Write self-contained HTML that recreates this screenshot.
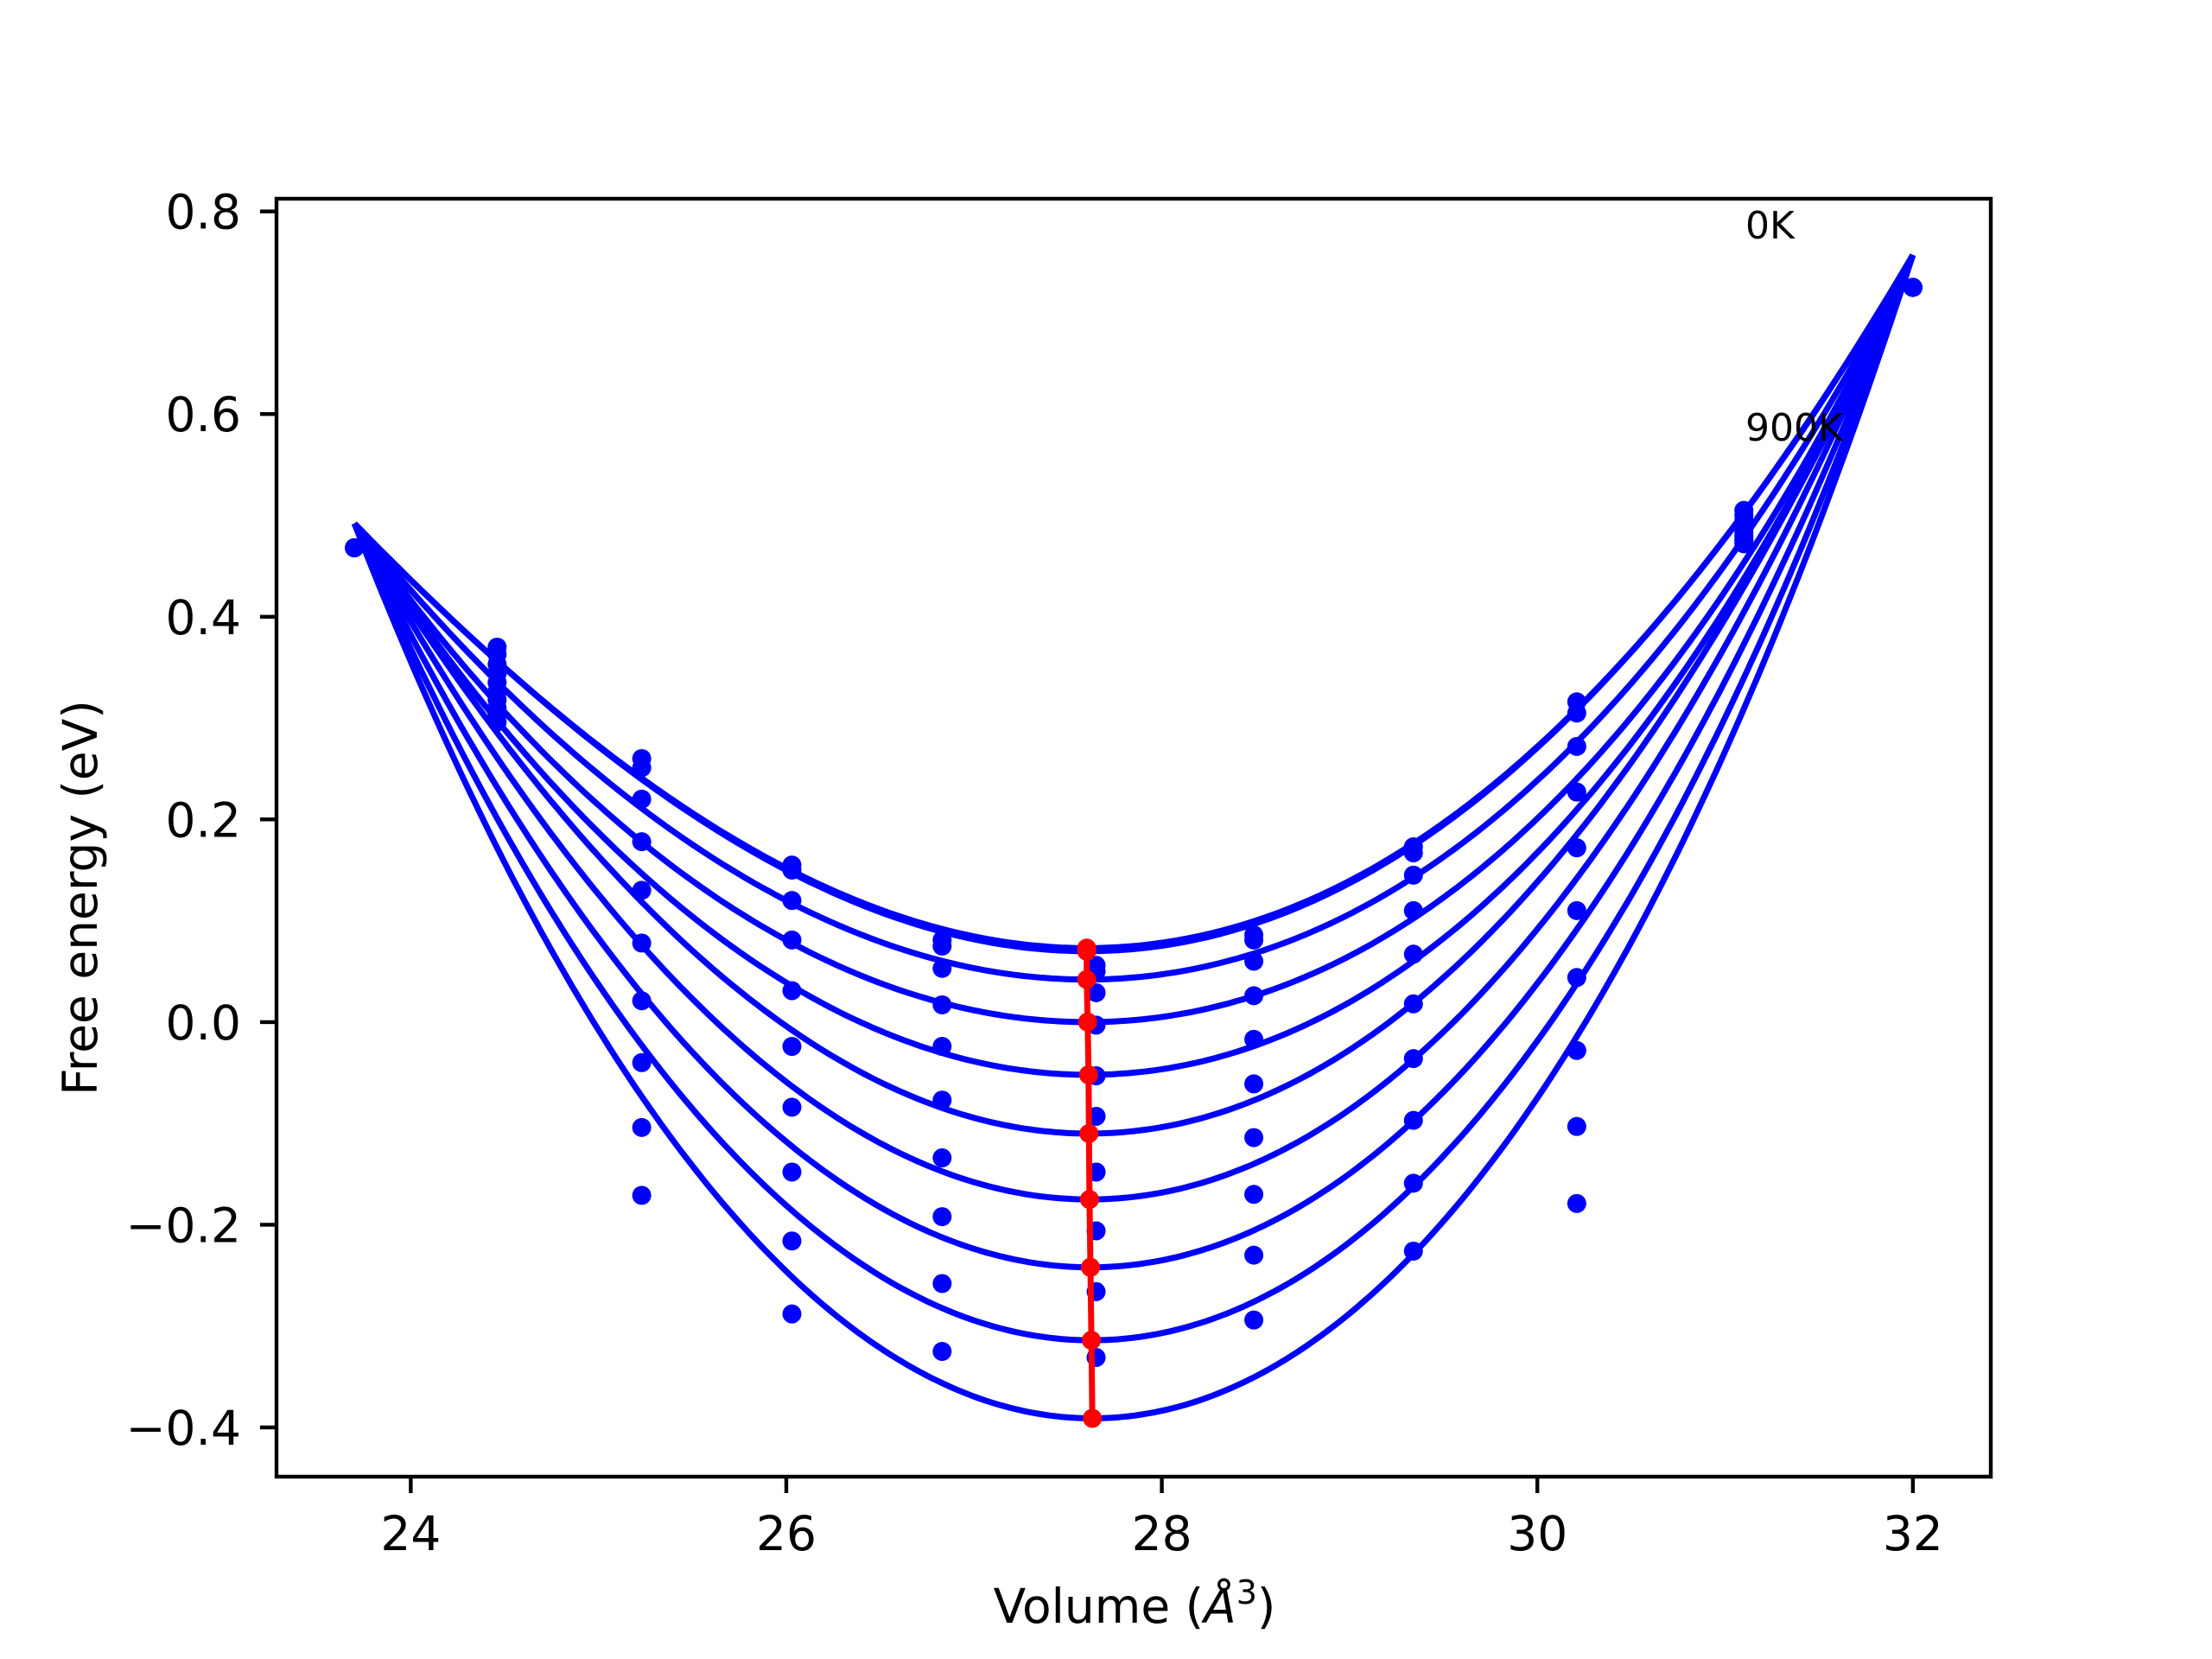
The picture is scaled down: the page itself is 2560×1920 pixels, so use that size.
<!DOCTYPE html>
<html><head><meta charset="utf-8"><style>
html,body{margin:0;padding:0;background:#fff}
svg{display:block}
text{font-family:"DejaVu Sans","Liberation Sans",sans-serif;fill:#000}
</style></head><body>
<svg id="chart" width="2560" height="1920" viewBox="0 0 2560 1920">
<rect x="0" y="0" width="2560" height="1920" fill="#fff"/>
<g id="plot"></g>
<g id="axes"></g>
</svg>
<script>
// ---- data ----
const temperatures = [0,100,200,300,400,500,600,700,800,900];
const minVolumes = [27.60,27.60,27.60,27.605,27.61,27.612,27.615,27.62,27.625,27.63];
const minEnergies = [0.073,0.070,0.042,0.000,-0.052,-0.110,-0.175,-0.242,-0.314,-0.391];
const energyAt26 = [0.152,0.150,0.120,0.081,0.039,-0.004,-0.059,-0.118,-0.181,-0.246];
const leftEndEnergy = 0.492;
const rightEndEnergy = 0.757;
const curveVMin = 23.7, curveVMax = 32.0;
const sampleVolumes = [23.7,24.46,25.23,26.03,26.83,27.65,28.49,29.34,30.21,31.1,32.0];
const sampleEnergies = [
 [0.468,0.468,0.468,0.468,0.468,0.468,0.468,0.468,0.468,0.468],
 [0.370,0.363,0.353,0.344,0.335,0.326,0.318,0.310,0.303,0.296],
 [0.260,0.251,0.220,0.178,0.130,0.078,0.021,-0.040,-0.104,-0.171],
 [0.155,0.150,0.120,0.081,0.031,-0.024,-0.084,-0.148,-0.216,-0.288],
 [0.081,0.075,0.053,0.017,-0.024,-0.077,-0.134,-0.192,-0.258,-0.325],
 [0.056,0.050,0.029,-0.003,-0.053,-0.093,-0.148,-0.206,-0.266,-0.331],
 [0.086,0.081,0.060,0.026,-0.017,-0.061,-0.114,-0.170,-0.230,-0.294],
 [0.173,0.167,0.145,0.110,0.067,0.018,-0.036,-0.097,-0.159,-0.226],
 [0.316,0.305,0.272,0.227,0.172,0.110,0.044,-0.028,-0.103,-0.179],
 [0.505,0.500,0.495,0.490,0.486,0.482,0.479,0.476,0.474,0.472],
 [0.725,0.725,0.725,0.725,0.725,0.725,0.725,0.725,0.725,0.725]
];
const xTicks = [24,26,28,30,32];
const yTicks = [0.8,0.6,0.4,0.2,0.0,-0.2,-0.4];
const yTickLabels = ["0.8","0.6","0.4","0.2","0.0","\u22120.2","\u22120.4"];
const xDomain = [23.285,32.415];
const yDomain = [-0.4486,0.8125];

// ---- layout ----
const L=320,R=2304,T=230,B=1709;
function sx(v){return L+(v-xDomain[0])/(xDomain[1]-xDomain[0])*(R-L);}
function sy(v){return B-(v-yDomain[0])/(yDomain[1]-yDomain[0])*(B-T);}
const NS="http://www.w3.org/2000/svg";
function mk(tag,attrs,parent){const e=document.createElementNS(NS,tag);for(const k in attrs)e.setAttribute(k,attrs[k]);parent.appendChild(e);return e;}
const plot=document.getElementById('plot');
const axes=document.getElementById('axes');

const defs=mk('defs',{},plot);
const cp=mk('clipPath',{id:'clip'},defs);
mk('rect',{x:L,y:T,width:R-L,height:B-T},cp);
const g=mk('g',{'clip-path':'url(#clip)'},plot);

function det3(m){return m[0][0]*(m[1][1]*m[2][2]-m[1][2]*m[2][1])-m[0][1]*(m[1][0]*m[2][2]-m[1][2]*m[2][0])+m[0][2]*(m[1][0]*m[2][1]-m[1][1]*m[2][0]);}
function fitCurve(i){
  const v0=minVolumes[i],f0=minEnergies[i];
  const ds=[curveVMin-v0,curveVMax-v0,26-v0];
  const rhs=[leftEndEnergy-f0,rightEndEnergy-f0,energyAt26[i]-f0];
  const M=ds.map(d=>[d*d,d*d*d,d*d*d*d]);
  const D=det3(M);
  const c=[0,1,2].map(j=>{const Mj=M.map((r,k)=>r.map((x,l)=>l===j?rhs[k]:x));return det3(Mj)/D;});
  return v=>{const d=v-v0;return f0+c[0]*d*d+c[1]*d*d*d+c[2]*d*d*d*d;};
}
temperatures.forEach((t,i)=>{
  const f=fitCurve(i);
  let d='';
  for(let k=0;k<=300;k++){const v=curveVMin+(curveVMax-curveVMin)*k/300;d+=(k?'L':'M')+sx(v).toFixed(1)+' '+sy(f(v)).toFixed(1);}
  const p=mk('path',{d:d,fill:'none',stroke:'#0000ff','stroke-width':7,'stroke-linejoin':'round'},g);
  
  
});
sampleVolumes.forEach((v,j)=>{
  sampleEnergies[j].forEach((e,i)=>{
    const c=mk('circle',{cx:sx(v),cy:sy(e),r:11,fill:'#0000ff'},g);
    
    
  });
});
let rd='';
minVolumes.forEach((v,i)=>{rd+=(i?'L':'M')+sx(v).toFixed(1)+' '+sy(minEnergies[i]).toFixed(1);});
const rl=mk('path',{d:rd,fill:'none',stroke:'#ff0000','stroke-width':7},g);


minVolumes.forEach((v,i)=>{
  const c=mk('circle',{cx:sx(v),cy:sy(minEnergies[i]),r:11,fill:'#ff0000'},g);
  
  
});
const t0=mk('text',{x:2020,y:276,'font-size':44},plot);t0.textContent='0K';


const t9=mk('text',{x:2020,y:510,'font-size':44},plot);t9.textContent='900K';



const fr=mk('rect',{x:L,y:T,width:R-L,height:B-T,fill:'none',stroke:'#000','stroke-width':4.4},axes);


xTicks.forEach(v=>{
  const x=sx(v);
  const tk=mk('line',{x1:x,x2:x,y1:B,y2:B+19,stroke:'#000','stroke-width':4.4},axes);
  
  
  const tl=mk('text',{x:x,y:1794,'font-size':55,'text-anchor':'middle'},axes);
  tl.textContent=String(v);
  
  
});
yTicks.forEach((v,i)=>{
  const y=sy(v);
  const tk=mk('line',{x1:L-19,x2:L,y1:y,y2:y,stroke:'#000','stroke-width':4.4},axes);
  
  
  const tl=mk('text',{x:279,y:y+20,'font-size':55,'text-anchor':'end'},axes);
  tl.textContent=yTickLabels[i];
  
  
});
</script>
<div style="position:absolute;left:0;top:0;width:2560px;height:1920px;pointer-events:none">
<svg width="2560" height="1920" style="position:absolute;left:0;top:0">
<text x="1313" y="1878" font-size="55" text-anchor="middle">Volume (<tspan font-style="italic">Å</tspan><tspan font-size="38" dy="-22">3</tspan><tspan dy="22">)</tspan></text>
<text transform="translate(112,1039) rotate(-90)" font-size="55" text-anchor="middle">Free energy (eV)</text>
</svg>
</div>
</body></html>
